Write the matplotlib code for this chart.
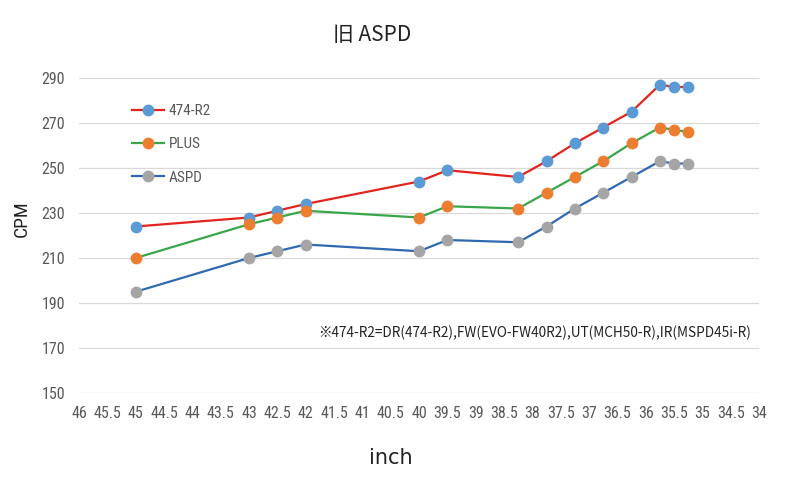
import matplotlib
matplotlib.use("Agg")
import matplotlib.pyplot as plt
from matplotlib import font_manager as fm

avail = {f.name for f in fm.fontManager.ttflist}
narrow = next((n for n in ['Liberation Sans Narrow', 'Arial Narrow', 'Roboto Condensed',
                           'Open Sans Condensed', 'Noto Sans CJK KR'] if n in avail), 'DejaVu Sans')
plt.rcParams['font.family'] = [narrow, 'DejaVu Sans']

inch = [45, 43, 42.5, 42, 40, 39.5, 38.25, 37.75, 37.25, 36.75, 36.25, 35.75, 35.5, 35.25]
r474 = [224, 228, 231, 234, 244, 249, 246, 253, 261, 268, 275, 287, 286, 286]
plus = [210, 225, 228, 231, 228, 233, 232, 239, 246, 253, 261, 268, 267, 266]
aspd = [195, 210, 213, 216, 213, 218, 217, 224, 232, 239, 246, 253, 252, 252]
series_names = ['474-R2', 'PLUS', 'ASPD']
xticks = [46 - 0.5 * i for i in range(25)]
yticks = [150, 170, 190, 210, 230, 250, 270, 290]

line_colors = ['#E3231D', '#3AA64A', '#2F6AB0']
marker_colors = ['#5B9BD5', '#ED7D31', '#A5A5A5']

fig = plt.figure(figsize=(8, 5), dpi=100)
ax = fig.add_axes([79/800, 1-393/500, (759-79)/800, (393-78)/500])

for vals, name, lc, mc in zip([r474, plus, aspd], series_names, line_colors, marker_colors):
    ax.plot(inch, vals, color=lc, lw=1.6, marker='o', markersize=7.5,
            markerfacecolor=mc, markeredgecolor=mc, label=name, clip_on=False, zorder=3)

ax.set_xlim(46, 34)
ax.set_ylim(150, 290)
ax.set_xticks(xticks)
ax.set_xticklabels([('%g' % t) for t in xticks])
ax.set_yticks(yticks)
ax.grid(axis='y', color='#D9D9D9', lw=0.9)
ax.set_axisbelow(True)
for s in ax.spines.values():
    s.set_visible(False)
ax.tick_params(length=0, labelsize=11.5, colors='#595959', pad=10)
ax.tick_params(axis='x', pad=9)

leg = ax.legend(loc='upper left', bbox_to_anchor=(132/800, 1-104/500), bbox_transform=fig.transFigure,
                frameon=False, fontsize=11, labelspacing=1.27, handlelength=2.1,
                handletextpad=0.3, borderpad=0, borderaxespad=0)
for t in leg.get_texts():
    t.set_color('#595959')

fig.text(372/800, 1-35/500, '旧 ASPD', ha='center', va='center', fontsize=15,
         family=['Noto Sans CJK JP', 'DejaVu Sans'], color='#222222')
fig.text(391/800, 1-458/500, 'inch', ha='center', va='center', fontsize=15,
         family=['DejaVu Sans'], color='#222222')
fig.text(22/800, 1-219/500, 'CPM', ha='center', va='center', fontsize=14, rotation=90,
         color='#222222')
fig.text(318/800, 1-333/500, '※474-R2=DR(474-R2),FW(EVO-FW40R2),UT(MCH50-R),IR(MSPD45i-R)',
         ha='left', va='center', fontsize=9.8, family=['Noto Sans CJK KR', 'DejaVu Sans'],
         color='#222222')

fig.savefig('out.png', dpi=100)
